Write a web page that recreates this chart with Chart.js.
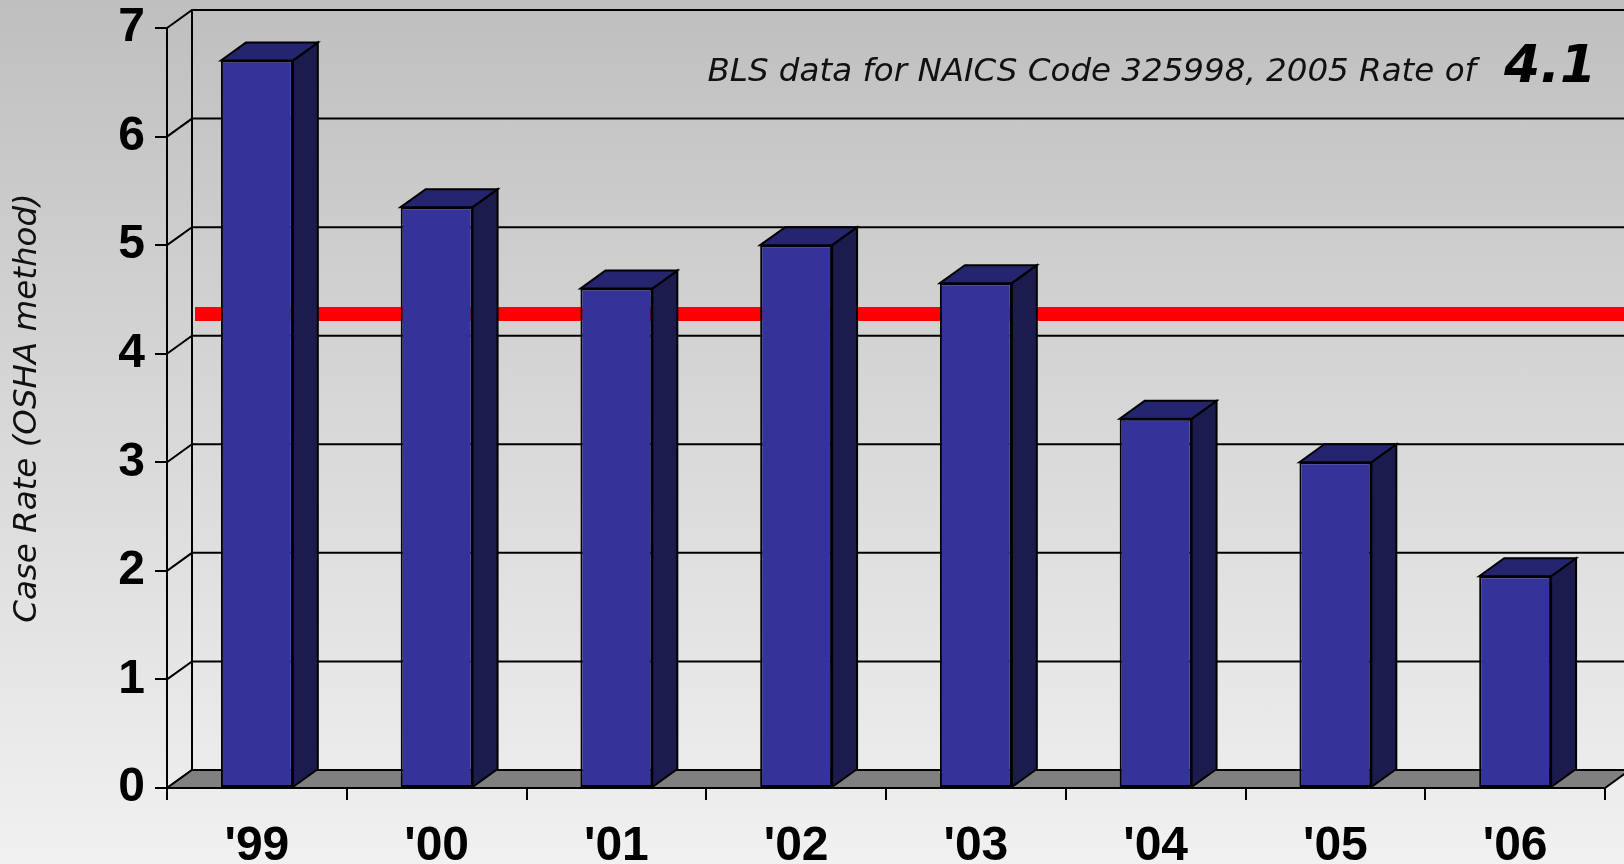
<!DOCTYPE html>
<html lang="en">
<head>
    <meta charset="UTF-8">
    <title>Case Rate (OSHA method)</title>
    <script src="https://cdn.jsdelivr.net/npm/chart.js"></script>
    <style>
        body {
            margin: 0;
            background: linear-gradient(to bottom, #bfbfbf 0%, #d6d6d6 45%, #f1f1f1 100%);
            width: 1624px;
            height: 864px;
            overflow: hidden;
        }
        canvas { display: block; }
    </style>
</head>
<body>
    <canvas id="rateChart" width="1624" height="864"></canvas>

    <script>
        // Values
        const years = ["'99", "'00", "'01", "'02", "'03", "'04", "'05", "'06"];
        const caseRates = [6.7, 5.35, 4.6, 5.0, 4.65, 3.4, 3.0, 1.95];
        const yTicks = [0, 1, 2, 3, 4, 5, 6, 7];
        const benchmarkLine = 4.2;   // red line as drawn on the back wall
        const blsRate2005 = "4.1";

        // 3D depth offset of the back wall
        const DX = 25, DY = -18;

        const threeD = {
            id: 'threeD',
            beforeDatasetsDraw(chart) {
                const ctx = chart.ctx;
                const y = chart.scales.y;
                const left = chart.chartArea.left, right = chart.chartArea.right;
                const farRight = chart.width + 40;
                ctx.save();
                ctx.strokeStyle = '#000';
                ctx.lineWidth = 2;
                // back wall + side wall gridlines
                yTicks.forEach(v => {
                    const py = y.getPixelForValue(v);
                    ctx.beginPath();
                    ctx.moveTo(left, py);
                    ctx.lineTo(left + DX, py + DY);
                    ctx.lineTo(farRight, py + DY);
                    ctx.stroke();
                });
                // back wall left edge
                ctx.beginPath();
                ctx.moveTo(left + DX, y.getPixelForValue(0) + DY);
                ctx.lineTo(left + DX, y.getPixelForValue(7) + DY);
                ctx.stroke();
                // floor
                const b = y.getPixelForValue(0);
                ctx.beginPath();
                ctx.moveTo(left, b);
                ctx.lineTo(right, b);
                ctx.lineTo(right + DX, b + DY);
                ctx.lineTo(left + DX, b + DY);
                ctx.closePath();
                ctx.fillStyle = '#808080';
                ctx.fill();
                ctx.stroke();
                // red benchmark line on the back wall
                const ry = y.getPixelForValue(benchmarkLine) + DY;
                ctx.beginPath();
                ctx.strokeStyle = '#ff0000';
                ctx.lineWidth = 14;
                ctx.moveTo(left + DX + 3, ry);
                ctx.lineTo(farRight, ry);
                ctx.stroke();
                ctx.restore();
            },
            afterDatasetsDraw(chart) {
                const ctx = chart.ctx;
                const meta = chart.getDatasetMeta(0);
                ctx.save();
                ctx.strokeStyle = '#000';
                ctx.lineWidth = 2;
                meta.data.forEach(bar => {
                    const p = bar.getProps(['x', 'y', 'base', 'width'], true);
                    const x1 = p.x - p.width / 2, x2 = p.x + p.width / 2;
                    // side face
                    ctx.beginPath();
                    ctx.moveTo(x2, p.y);
                    ctx.lineTo(x2 + DX, p.y + DY);
                    ctx.lineTo(x2 + DX, p.base + DY);
                    ctx.lineTo(x2, p.base);
                    ctx.closePath();
                    ctx.fillStyle = '#1b1b4d';
                    ctx.fill();
                    ctx.stroke();
                    // top face
                    ctx.beginPath();
                    ctx.moveTo(x1, p.y);
                    ctx.lineTo(x1 + DX, p.y + DY);
                    ctx.lineTo(x2 + DX, p.y + DY);
                    ctx.lineTo(x2, p.y);
                    ctx.closePath();
                    ctx.fillStyle = '#25256f';
                    ctx.fill();
                    ctx.stroke();
                });
                ctx.restore();
            },
            afterDraw(chart) {
                const ctx = chart.ctx;
                ctx.save();
                ctx.fillStyle = '#111';
                // note in the top right
                ctx.textBaseline = 'alphabetic';
                ctx.textAlign = 'right';
                ctx.font = 'italic 32.5px "DejaVu Sans"';
                ctx.fillText('BLS data for NAICS Code 325998, 2005 Rate of', 1476, 81);
                ctx.textAlign = 'left';
                ctx.fillStyle = '#000';
                ctx.font = 'italic bold 52px "DejaVu Sans"';
                ctx.fillText(blsRate2005, 1504, 82);
                // y axis title
                ctx.translate(28, 408);
                ctx.rotate(-Math.PI / 2);
                ctx.textAlign = 'center';
                ctx.textBaseline = 'middle';
                ctx.fillStyle = '#111';
                ctx.font = 'italic 32.5px "DejaVu Sans"';
                ctx.fillText('Case Rate (OSHA method)', 0, 0);
                ctx.restore();
            }
        };

        const ctx = document.getElementById('rateChart').getContext('2d');
        new Chart(ctx, {
            type: 'bar',
            data: {
                labels: years,
                datasets: [{
                    data: caseRates,
                    backgroundColor: '#333399',
                    borderColor: '#000',
                    borderWidth: 2,
                    borderSkipped: false,
                    categoryPercentage: 1,
                    barPercentage: 0.4
                }]
            },
            options: {
                responsive: false,
                animation: false,
                layout: { padding: { top: 28, right: 19, left: 0, bottom: 0 } },
                plugins: {
                    legend: { display: false },
                    tooltip: { enabled: false }
                },
                scales: {
                    x: {
                        grid: { offset: true, drawOnChartArea: false, color: '#000', lineWidth: 2, tickLength: 12 },
                        border: { display: true, color: '#000', width: 2 },
                        ticks: {
                            color: '#000',
                            padding: 23,
                            maxRotation: 0,
                            font: { family: '"Liberation Sans", Arial, sans-serif', weight: 'bold', size: 48, lineHeight: 1 }
                        },
                        afterFit(scale) {
                            scale.height = 76;
                            scale.paddingLeft = 0;
                            scale.paddingRight = 0;
                        }
                    },
                    y: {
                        min: 0,
                        max: 7,
                        grid: { drawOnChartArea: false, color: '#000', lineWidth: 2, tickLength: 12 },
                        border: { display: true, color: '#000', width: 2 },
                        ticks: {
                            stepSize: 1,
                            color: '#000',
                            padding: 10,
                            font: { family: '"Liberation Sans", Arial, sans-serif', weight: 'bold', size: 48, lineHeight: 1 }
                        },
                        afterFit(scale) {
                            scale.width = 167;
                            scale.paddingTop = 0;
                            scale.paddingBottom = 0;
                        }
                    }
                }
            },
            plugins: [threeD]
        });
    </script>
</body>
</html>
